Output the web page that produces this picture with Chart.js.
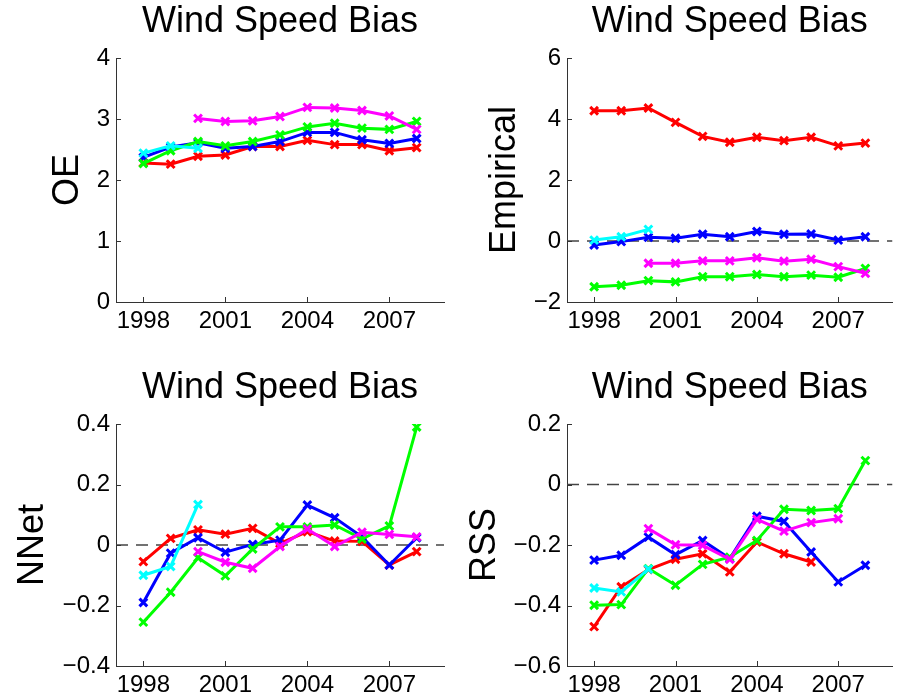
<!DOCTYPE html>
<html>
<head>
<meta charset="utf-8">
<script src="https://cdn.jsdelivr.net/npm/chart.js@4.4.1/dist/chart.umd.min.js"></script>
<style>
  html, body { margin: 0; padding: 0; background: #fff; }
  #wrap { position: relative; width: 901px; height: 698px; overflow: hidden; }
  #wrap canvas { position: absolute; left: 0; top: 0; }
</style>
</head>
<body>
<div id="wrap"></div>
<script>
// ---------------- DATA ----------------
const years = [1998, 1999, 2000, 2001, 2002, 2003, 2004, 2005, 2006, 2007, 2008];
const xTickValues = [1998, 2001, 2004, 2007];
const xTickLabels = ['1998', '2001', '2004', '2007'];
const panelTitle = 'Wind Speed Bias';

// OE panel
const oeRed     = [2.28, 2.26, 2.39, 2.41, 2.55, 2.55, 2.65, 2.58, 2.58, 2.48, 2.53];
const oeBlue    = [2.37, 2.54, 2.61, 2.52, 2.55, 2.63, 2.78, 2.78, 2.66, 2.60, 2.68];
const oeGreen   = [2.27, 2.48, 2.63, 2.56, 2.63, 2.74, 2.87, 2.93, 2.85, 2.83, 2.96];
const oeCyan    = [2.44, 2.56, 2.52, null, null, null, null, null, null, null, null];
const oeMagenta = [null, null, 3.01, 2.96, 2.97, 3.04, 3.19, 3.18, 3.14, 3.05, 2.83];
const oeTickValues = [0, 1, 2, 3, 4];
const oeTickLabels = ['0', '1', '2', '3', '4'];

// Empirical panel
const empRed     = [4.27, 4.27, 4.36, 3.89, 3.43, 3.24, 3.40, 3.29, 3.40, 3.12, 3.21];
const empBlue    = [-0.13, -0.02, 0.12, 0.09, 0.22, 0.14, 0.31, 0.22, 0.23, 0.03, 0.14];
const empGreen   = [-1.50, -1.45, -1.30, -1.34, -1.17, -1.17, -1.10, -1.17, -1.12, -1.19, -0.90];
const empCyan    = [0.03, 0.14, 0.38, null, null, null, null, null, null, null, null];
const empMagenta = [null, null, -0.73, -0.73, -0.65, -0.65, -0.55, -0.66, -0.60, -0.84, -1.06];
const empTickValues = [-2, 0, 2, 4, 6];
const empTickLabels = ['\u22122', '0', '2', '4', '6'];

// NNet panel
const nnRed     = [-0.055, 0.022, 0.050, 0.036, 0.055, 0.005, 0.044, 0.013, 0.012, -0.066, -0.022];
const nnBlue    = [-0.190, -0.027, 0.024, -0.024, 0.002, 0.016, 0.132, 0.090, 0.027, -0.066, 0.024];
const nnGreen   = [-0.255, -0.156, -0.042, -0.102, -0.013, 0.060, 0.060, 0.066, 0.020, 0.063, 0.390];
const nnCyan    = [-0.100, -0.071, 0.134, null, null, null, null, null, null, null, null];
const nnMagenta = [null, null, -0.022, -0.057, -0.077, -0.005, 0.053, -0.005, 0.042, 0.035, 0.027];
const nnTickValues = [-0.4, -0.2, 0, 0.2, 0.4];
const nnTickLabels = ['\u22120.4', '\u22120.2', '0', '0.2', '0.4'];

// RSS panel
const rssRed     = [-0.470, -0.338, -0.281, -0.247, -0.229, -0.289, -0.190, -0.229, -0.256, null, null];
const rssBlue    = [-0.250, -0.234, -0.174, -0.232, -0.185, -0.245, -0.105, -0.122, -0.223, -0.322, -0.267];
const rssGreen   = [-0.399, -0.397, -0.278, -0.333, -0.264, -0.240, -0.185, -0.082, -0.086, -0.080, 0.079];
const rssCyan    = [-0.342, -0.355, -0.280, null, null, null, null, null, null, null, null];
const rssMagenta = [null, null, -0.146, -0.199, -0.201, -0.247, -0.115, -0.154, -0.126, -0.113, null];
const rssTickValues = [-0.6, -0.4, -0.2, 0, 0.2];
const rssTickLabels = ['\u22120.6', '\u22120.4', '\u22120.2', '0', '0.2'];

// ---------------- STYLE ----------------
const FONT = '"Liberation Sans", Arial, Helvetica, sans-serif';
const AXIS_COLOR = '#333';
const C = { red: '#ff0000', blue: '#0000ff', green: '#00ff00', cyan: '#00ffff', magenta: '#ff00ff' };

function pts(vals) { return years.map((yr, i) => ({ x: yr, y: vals[i] })); }

function series(vals, color, order) {
  return {
    data: pts(vals), borderColor: color, backgroundColor: color,
    borderWidth: 3, pointStyle: 'crossRot', pointRadius: 5.5, pointBorderWidth: 3,
    pointBorderColor: color, pointBackgroundColor: color,
    tension: 0, spanGaps: false, order: order
  };
}

const inwardTicks = {
  id: 'inwardTicks',
  afterDraw(chart) {
    const ctx = chart.ctx, ca = chart.chartArea;
    ctx.save();
    ctx.strokeStyle = AXIS_COLOR; ctx.lineWidth = 1;
    const xs = chart.scales.x, ys = chart.scales.y;
    xs.ticks.forEach(t => {
      const px = Math.round(xs.getPixelForValue(t.value)) + 0.5;
      ctx.beginPath(); ctx.moveTo(px, ca.bottom); ctx.lineTo(px, ca.bottom - 5); ctx.stroke();
    });
    ys.ticks.forEach(t => {
      const py = Math.round(ys.getPixelForValue(t.value)) + 0.5;
      ctx.beginPath(); ctx.moveTo(ca.left, py); ctx.lineTo(ca.left + 5, py); ctx.stroke();
    });
    ctx.restore();
  }
};

function makePanel(p) {
  const canvas = document.createElement('canvas');
  canvas.width = 901; canvas.height = 698;
  canvas.style.width = '901px'; canvas.style.height = '698px';
  document.getElementById('wrap').appendChild(canvas);

  const datasets = [
    series(p.magenta, C.magenta, 0),
    series(p.cyan, C.cyan, 1),
    series(p.green, C.green, 2),
    series(p.blue, C.blue, 3),
    series(p.red, C.red, 4)
  ];
  if (p.zeroLine) {
    datasets.push({
      data: [{ x: 1997, y: 0 }, { x: 2009, y: 0 }], borderColor: '#444', borderWidth: 1.5,
      borderDash: [12, 8], pointRadius: 0, tension: 0, order: 10
    });
  }

  new Chart(canvas.getContext('2d'), {
    type: 'line',
    data: { datasets },
    options: {
      responsive: false, animation: false, devicePixelRatio: 1,
      events: [],
      layout: { padding: { left: p.scaleLeft, right: 901 - p.R, top: p.titleTop, bottom: 698 - p.B - p.xH } },
      plugins: {
        legend: { display: false }, tooltip: { enabled: false },
        title: {
          display: true, text: panelTitle, fullSize: false, color: '#000',
          font: { family: FONT, size: 36, weight: 'normal', lineHeight: 1.2 },
          padding: { top: 0, bottom: p.titlePadB }
        }
      },
      scales: {
        x: {
          type: 'linear', min: 1997, max: 2009,
          afterBuildTicks: s => { s.ticks = xTickValues.map(v => ({ value: v })); },
          afterFit: s => { s.height = p.xH; },
          grid: { display: true, drawOnChartArea: false, drawTicks: false },
          border: { display: true, color: AXIS_COLOR, width: 1 },
          ticks: {
            color: '#000', font: { family: FONT, size: 24 }, padding: 5,
            maxRotation: 0, autoSkip: false,
            callback: (v, i) => xTickLabels[i]
          }
        },
        y: {
          type: 'linear', min: p.tickValues[0], max: p.tickValues[p.tickValues.length - 1],
          afterBuildTicks: s => { s.ticks = p.tickValues.map(v => ({ value: v })); },
          afterFit: s => { s.width = p.yW; },
          grid: { display: true, drawOnChartArea: false, drawTicks: false },
          border: { display: true, color: AXIS_COLOR, width: 1 },
          ticks: {
            color: '#000', font: { family: FONT, size: 24 }, padding: 6, autoSkip: false,
            callback: (v, i) => p.tickLabels[i]
          },
          title: {
            display: true, text: p.ylabel, color: '#000',
            font: { family: FONT, size: 36, weight: 'normal', lineHeight: 1.2 },
            padding: { top: 0, bottom: 0 }
          }
        }
      }
    },
    plugins: [inwardTicks]
  });
}

// Panel layout boxes (plot areas)
makePanel({
  ylabel: 'OE', red: oeRed, blue: oeBlue, green: oeGreen, cyan: oeCyan, magenta: oeMagenta,
  tickValues: oeTickValues, tickLabels: oeTickLabels, zeroLine: false,
  L: 116, R: 444, T: 58, B: 302, scaleLeft: 46.4, yW: 69.6, titleTop: 0, titlePadB: 14.8, xH: 40
});
makePanel({
  ylabel: 'Empirical', red: empRed, blue: empBlue, green: empGreen, cyan: empCyan, magenta: empMagenta,
  tickValues: empTickValues, tickLabels: empTickLabels, zeroLine: true,
  L: 567, R: 895, T: 58, B: 302, scaleLeft: 483.4, yW: 83.6, titleTop: 0, titlePadB: 14.8, xH: 40
});
makePanel({
  ylabel: 'NNet', red: nnRed, blue: nnBlue, green: nnGreen, cyan: nnCyan, magenta: nnMagenta,
  tickValues: nnTickValues, tickLabels: nnTickLabels, zeroLine: true,
  L: 116, R: 444, T: 424, B: 666, scaleLeft: 11.4, yW: 104.6, titleTop: 366.4, titlePadB: 14.4, xH: 32
});
makePanel({
  ylabel: 'RSS', red: rssRed, blue: rssBlue, green: rssGreen, cyan: rssCyan, magenta: rssMagenta,
  tickValues: rssTickValues, tickLabels: rssTickLabels, zeroLine: true,
  L: 567, R: 895, T: 424, B: 666, scaleLeft: 463.4, yW: 103.6, titleTop: 366.4, titlePadB: 14.4, xH: 32
});
</script>
</body>
</html>
